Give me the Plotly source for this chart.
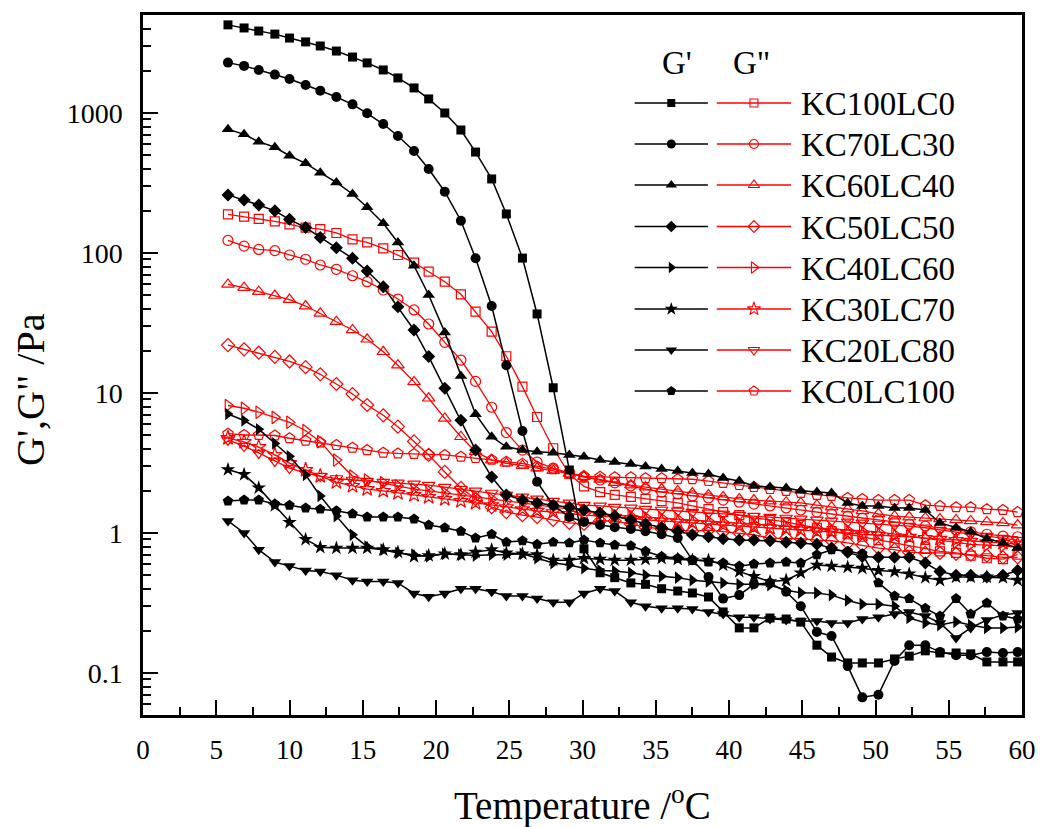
import plotly.graph_objects as go

# Temperature sweep (°C)
temps = [5.8, 6.9, 7.9, 9.0, 10.0, 11.1, 12.1, 13.2, 14.3, 15.3,
         16.4, 17.4, 18.5, 19.5, 20.6, 21.7, 22.7, 23.8, 24.8, 25.9,
         26.9, 28.0, 29.1, 30.1, 31.2, 32.2, 33.3, 34.3, 35.4, 36.5,
         37.5, 38.6, 39.6, 40.7, 41.7, 42.8, 43.9, 44.9, 46.0, 47.0,
         48.1, 49.1, 50.2, 51.3, 52.3, 53.4, 54.4, 55.5, 56.5, 57.6,
         58.7, 59.7]

samples = ["KC100LC0", "KC70LC30", "KC60LC40", "KC50LC50",
           "KC40LC60", "KC30LC70", "KC20LC80", "KC0LC100"]

# Storage modulus G' (Pa)
kc100_gp = [4260, 4050, 3850, 3660, 3430, 3220, 3010, 2770, 2510, 2280,
            2030, 1780, 1510, 1260, 1000, 756, 526, 338, 190, 92,
            36.7, 10.9, 2.82, 0.77, 0.52, 0.48, 0.44, 0.43, 0.40, 0.385,
            0.373, 0.349, 0.273, 0.21, 0.21, 0.247, 0.243, 0.231, 0.158, 0.13,
            0.118, 0.118, 0.118, 0.126, 0.132, 0.144, 0.139, 0.139, 0.137, 0.12,
            0.12, 0.12]
kc70_gp = [2290, 2170, 2030, 1880, 1750, 1585, 1443, 1301, 1153, 995,
           834, 685, 535, 398, 274, 170, 91.6, 41.8, 15.8, 5.35,
           2.32, 1.58, 1.30, 1.20, 1.14, 1.10, 1.07, 1.03, 0.98, 0.92,
           0.64, 0.485, 0.34, 0.36, 0.43, 0.44, 0.38, 0.30, 0.196, 0.184,
           0.112, 0.067, 0.070, 0.122, 0.158, 0.158, 0.141, 0.134, 0.134, 0.141,
           0.139, 0.141]
kc60_gp = [765, 704, 624, 569, 495, 437, 375, 319, 264, 212,
           163, 119, 81.1, 50.1, 27.1, 13.2, 7.05, 4.87, 4.13, 3.91,
           3.81, 3.75, 3.61, 3.51, 3.32, 3.21, 3.11, 2.99, 2.86, 2.77,
           2.68, 2.64, 2.47, 2.35, 2.17, 2.13, 2.10, 2.0, 1.96, 1.93,
           1.64, 1.56, 1.56, 1.51, 1.51, 1.46, 1.18, 1.09, 1.02, 0.91,
           0.85, 0.78]
kc50_gp = [260, 239, 220, 200, 174, 152, 129, 109, 91.6, 74.3,
           57.5, 41.3, 28.2, 18.2, 10.8, 6.38, 3.91, 2.51, 1.87, 1.72,
           1.64, 1.58, 1.53, 1.46, 1.39, 1.32, 1.24, 1.16, 1.09, 1.03,
           0.97, 0.94, 0.91, 0.89, 0.89, 0.88, 0.86, 0.85, 0.83, 0.78,
           0.73, 0.68, 0.67, 0.67, 0.67, 0.61, 0.53, 0.50, 0.50, 0.485,
           0.50, 0.54]
kc40_gp = [7.08, 6.36, 5.51, 4.36, 3.53, 2.60, 1.84, 1.32, 0.97, 0.80,
           0.76, 0.72, 0.70, 0.68, 0.71, 0.70, 0.69, 0.70, 0.70, 0.71,
           0.66, 0.61, 0.59, 0.56, 0.54, 0.535, 0.52, 0.50, 0.49, 0.48,
           0.46, 0.45, 0.44, 0.43, 0.43, 0.425, 0.39, 0.375, 0.373, 0.36,
           0.33, 0.31, 0.31, 0.30, 0.247, 0.228, 0.22, 0.232, 0.22, 0.21,
           0.21, 0.213]
kc30_gp = [2.84, 2.62, 2.10, 1.57, 1.19, 0.90, 0.79, 0.78, 0.78, 0.78,
           0.76, 0.73, 0.68, 0.69, 0.71, 0.70, 0.73, 0.76, 0.72, 0.71,
           0.70, 0.64, 0.64, 0.66, 0.65, 0.64, 0.64, 0.65, 0.66, 0.65,
           0.64, 0.64, 0.59, 0.53, 0.49, 0.45, 0.46, 0.52, 0.59, 0.58,
           0.57, 0.56, 0.54, 0.53, 0.51, 0.48, 0.46, 0.485, 0.485, 0.485,
           0.48, 0.46]
kc20_gp = [1.22, 1.0, 0.76, 0.62, 0.58, 0.54, 0.53, 0.50, 0.46, 0.45,
           0.45, 0.44, 0.37, 0.35, 0.37, 0.40, 0.40, 0.38, 0.355, 0.355,
           0.34, 0.32, 0.32, 0.37, 0.40, 0.385, 0.32, 0.30, 0.29, 0.29,
           0.286, 0.273, 0.264, 0.25, 0.25, 0.243, 0.239, 0.235, 0.235, 0.228,
           0.228, 0.243, 0.25, 0.264, 0.273, 0.255, 0.228, 0.178, 0.21, 0.239,
           0.26, 0.268]
kc0_gp = [1.69, 1.72, 1.72, 1.61, 1.58, 1.51, 1.48, 1.44, 1.37, 1.30,
          1.30, 1.30, 1.26, 1.14, 1.09, 1.03, 0.92, 0.98, 0.86, 0.88,
          0.83, 0.86, 0.85, 0.89, 0.85, 0.82, 0.81, 0.74, 0.68, 0.66,
          0.64, 0.62, 0.61, 0.58, 0.60, 0.61, 0.62, 0.61, 0.70, 0.76,
          0.74, 0.71, 0.44, 0.355, 0.34, 0.29, 0.255, 0.34, 0.264, 0.316,
          0.255, 0.243]

# Loss modulus G'' (Pa)
kc100_gpp = [189, 182, 175, 168, 160, 152, 148, 139, 125, 119,
             108, 96.8, 85.3, 73.5, 62.4, 50.7, 38.1, 27.4, 18.3, 11.1,
             6.74, 4.03, 2.64, 2.15, 1.96, 1.87, 1.81, 1.75, 1.69, 1.64,
             1.56, 1.48, 1.41, 1.34, 1.28, 1.24, 1.20, 1.14, 1.09, 1.03,
             0.98, 0.94, 0.89, 0.85, 0.81, 0.77, 0.74, 0.72, 0.69, 0.66,
             0.65, 0.70]
kc70_gpp = [123, 112, 106, 104, 96.8, 90.2, 82.1, 76.5, 68.8, 62.4,
            54.4, 46.9, 39.2, 31.1, 23.0, 17.2, 12.1, 7.91, 5.22, 3.91,
            3.21, 2.91, 2.68, 2.51, 2.39, 2.28, 2.17, 2.06, 1.96, 1.90,
            1.84, 1.78, 1.72, 1.66, 1.61, 1.56, 1.51, 1.46, 1.41, 1.37,
            1.32, 1.28, 1.24, 1.20, 1.16, 1.12, 1.09, 1.05, 1.02, 0.98,
            0.95, 0.94]
kc60_gpp = [59.6, 56.5, 52.9, 49.7, 46.5, 41.8, 37.1, 32.3, 28.2, 24.2,
            19.7, 15.8, 12.0, 9.17, 6.59, 4.87, 3.81, 3.32, 3.15, 3.03,
            2.91, 2.79, 2.66, 2.53, 2.41, 2.29, 2.20, 2.13, 2.06, 2.0,
            1.93, 1.87, 1.81, 1.75, 1.72, 1.69, 1.66, 1.64, 1.58, 1.53,
            1.48, 1.44, 1.37, 1.32, 1.30, 1.28, 1.26, 1.24, 1.22, 1.20,
            1.18, 1.14]
kc50_gpp = [22.0, 20.5, 19.4, 18.1, 16.8, 15.3, 13.6, 11.6, 9.84, 8.21,
            6.93, 5.75, 4.51, 3.61, 2.73, 2.10, 1.75, 1.53, 1.41, 1.34,
            1.30, 1.24, 1.18, 1.16, 1.22, 1.22, 1.16, 1.10, 1.07, 1.05,
            1.03, 1.05, 1.02, 1.0, 0.97, 0.92, 0.92, 0.91, 0.89, 0.88,
            0.85, 0.82, 0.78, 0.76, 0.73, 0.72, 0.72, 0.71, 0.70, 0.69,
            0.67, 0.67]
kc40_gpp = [8.14, 7.78, 7.29, 6.70, 6.18, 5.38, 4.49, 3.32, 2.55, 2.39,
            2.28, 2.17, 2.06, 2.0, 1.93, 1.87, 1.81, 1.75, 1.69, 1.64,
            1.58, 1.53, 1.48, 1.44, 1.39, 1.34, 1.32, 1.30, 1.28, 1.26,
            1.24, 1.22, 1.20, 1.18, 1.16, 1.14, 1.12, 1.10, 1.09, 1.07,
            1.05, 1.03, 1.02, 0.98, 0.95, 0.92, 0.89, 0.86, 0.83, 0.82,
            0.81, 0.79]
kc30_gpp = [4.77, 4.47, 4.11, 3.61, 3.16, 2.82, 2.55, 2.31, 2.17, 2.06,
            2.0, 1.93, 1.87, 1.81, 1.75, 1.69, 1.64, 1.58, 1.53, 1.48,
            1.44, 1.41, 1.37, 1.34, 1.32, 1.30, 1.28, 1.24, 1.22, 1.20,
            1.18, 1.16, 1.14, 1.12, 1.10, 1.09, 1.07, 1.05, 1.03, 1.02,
            1.0, 0.98, 0.97, 0.95, 0.94, 0.92, 0.91, 0.89, 0.88, 0.86,
            0.85, 0.83]
kc20_gpp = [4.62, 4.18, 3.73, 3.27, 2.91, 2.68, 2.55, 2.45, 2.39, 2.35,
            2.31, 2.28, 2.24, 2.20, 2.13, 2.06, 2.0, 1.93, 1.87, 1.81,
            1.75, 1.69, 1.64, 1.58, 1.56, 1.53, 1.51, 1.48, 1.46, 1.44,
            1.41, 1.39, 1.37, 1.34, 1.32, 1.30, 1.28, 1.26, 1.24, 1.22,
            1.20, 1.18, 1.16, 1.14, 1.12, 1.09, 1.05, 1.02, 0.98, 0.95,
            0.92, 0.89]
kc0_gpp = [5.12, 5.01, 5.01, 4.97, 4.75, 4.56, 4.44, 4.25, 4.07, 3.91,
           3.75, 3.70, 3.67, 3.64, 3.61, 3.51, 3.43, 3.34, 3.23, 3.13,
           2.99, 2.86, 2.67, 2.55, 2.52, 2.50, 2.50, 2.46, 2.46, 2.42,
           2.42, 2.35, 2.28, 2.20, 2.13, 2.06, 2.0, 1.93, 1.87, 1.84,
           1.78, 1.75, 1.72, 1.72, 1.72, 1.58, 1.56, 1.53, 1.53, 1.48,
           1.46, 1.41]

y_tick_values = [0.1, 1, 10, 100, 1000]
y_tick_labels = ["0.1", "1", "10", "100", "1000"]

g_prime = [kc100_gp, kc70_gp, kc60_gp, kc50_gp, kc40_gp, kc30_gp, kc20_gp, kc0_gp]
g_dprime = [kc100_gpp, kc70_gpp, kc60_gpp, kc50_gpp, kc40_gpp, kc30_gpp, kc20_gpp, kc0_gpp]

symbols = ["square", "circle", "triangle-up", "diamond",
           "triangle-right", "star", "triangle-down", "pentagon"]
sizes = {"square": 9, "circle": 10, "triangle-up": 11, "diamond": 10,
         "triangle-right": 11, "star": 11, "triangle-down": 11, "pentagon": 11}

FONT = "Liberation Serif"
BLACK = "#000000"
RED = "#ff0000"

# plot box in pixels (used by the overlay axes that hold the key)
PX_L, PX_R, PX_T, PX_B = 143.3, 1031.3, 15, 715

fig = go.Figure()

for name, sym, gp, gpp in zip(samples, symbols, g_prime, g_dprime):
    fig.add_trace(go.Scatter(
        x=temps, y=gpp, mode="lines+markers", name=name + " G''",
        line=dict(color=RED, width=1.3),
        marker=dict(symbol=sym + "-open", size=sizes[sym], color=RED,
                    line=dict(color=RED, width=1.2)),
        showlegend=False))
for name, sym, gp, gpp in zip(samples, symbols, g_prime, g_dprime):
    fig.add_trace(go.Scatter(
        x=temps, y=gp, mode="lines+markers", name=name + " G'",
        line=dict(color=BLACK, width=1.5),
        marker=dict(symbol=sym, size=sizes[sym], color=BLACK,
                    line=dict(width=0)),
        showlegend=False))

# Key: two sample columns (G', G'') followed by the sample name
row_y = [103, 144, 185, 226.5, 267.5, 309, 350, 391]
annotations = []
for name, sym, ry in zip(samples, symbols, row_y):
    for (x0, x1, col, msym) in [(640, 714, BLACK, sym), (723, 798, RED, sym + "-open")]:
        fig.add_trace(go.Scatter(
            x=[x0, x1], y=[ry, ry], mode="lines", xaxis="x2", yaxis="y2",
            line=dict(color=col, width=1.3), showlegend=False, hoverinfo="skip"))
        fig.add_trace(go.Scatter(
            x=[(x0 + x1) / 2], y=[ry], mode="markers", xaxis="x2", yaxis="y2",
            marker=dict(symbol=msym, size=sizes[sym] - 1, color=col,
                        line=dict(color=col, width=1.1 if msym.endswith("open") else 0)),
            showlegend=False, hoverinfo="skip"))
    annotations.append(dict(x=806, y=ry + 1, xref="x2", yref="y2", text=name,
                            showarrow=False, xanchor="left", yanchor="middle",
                            font=dict(family=FONT, size=33, color="black")))

annotations.append(dict(x=683, y=63, xref="x2", yref="y2", text="G'",
                        showarrow=False, xanchor="center", yanchor="middle",
                        font=dict(family=FONT, size=33, color="black")))
annotations.append(dict(x=758, y=63, xref="x2", yref="y2", text='G"',
                        showarrow=False, xanchor="center", yanchor="middle",
                        font=dict(family=FONT, size=33, color="black")))

# Axis titles
annotations.append(dict(x=0.5, y=-0.127, xref="paper", yref="paper",
                        text="Temperature /<sup>o</sup>C", showarrow=False,
                        xanchor="center", yanchor="middle",
                        font=dict(family=FONT, size=39, color="black")))
annotations.append(dict(x=-0.128, y=0.465, xref="paper", yref="paper",
                        text="G',G\" /Pa", showarrow=False, textangle=-90,
                        xanchor="center", yanchor="middle",
                        font=dict(family=FONT, size=40, color="black")))

minor_y = [m * 10 ** d for d in range(-2, 4) for m in range(2, 10)]

fig.update_layout(
    width=1048, height=827,
    margin=dict(l=143, r=17, t=15, b=112),
    paper_bgcolor="white", plot_bgcolor="white",
    font=dict(family=FONT, color="black"),
    annotations=annotations,
    xaxis=dict(
        range=[0, 60], tickmode="linear", tick0=0, dtick=5,
        ticks="inside", ticklen=15, tickwidth=2, tickcolor="black",
        showline=True, linewidth=2.5, linecolor="black", mirror=True,
        showgrid=False, zeroline=False,
        tickfont=dict(family=FONT, size=27, color="black"),
        ticklabelstandoff=9,
        minor=dict(dtick=2.5, ticks="inside", ticklen=8, tickwidth=2,
                   tickcolor="black", showgrid=False),
    ),
    yaxis=dict(
        type="log", range=[-1.3, 3.7],
        tickmode="array", tickvals=y_tick_values, ticktext=y_tick_labels,
        ticks="inside", ticklen=15, tickwidth=2, tickcolor="black",
        showline=True, linewidth=2.5, linecolor="black", mirror=True,
        showgrid=False, zeroline=False,
        tickfont=dict(family=FONT, size=28, color="black"),
        ticklabelstandoff=12,
        minor=dict(tickmode="array", tickvals=minor_y, ticks="inside",
                   ticklen=8, tickwidth=2, tickcolor="black", showgrid=False),
    ),
    xaxis2=dict(overlaying="x", anchor="y2", range=[PX_L, PX_R], visible=False,
                fixedrange=True),
    yaxis2=dict(overlaying="y", anchor="x2", range=[PX_B, PX_T], visible=False,
                fixedrange=True),
)

fig.write_html("out.html")
